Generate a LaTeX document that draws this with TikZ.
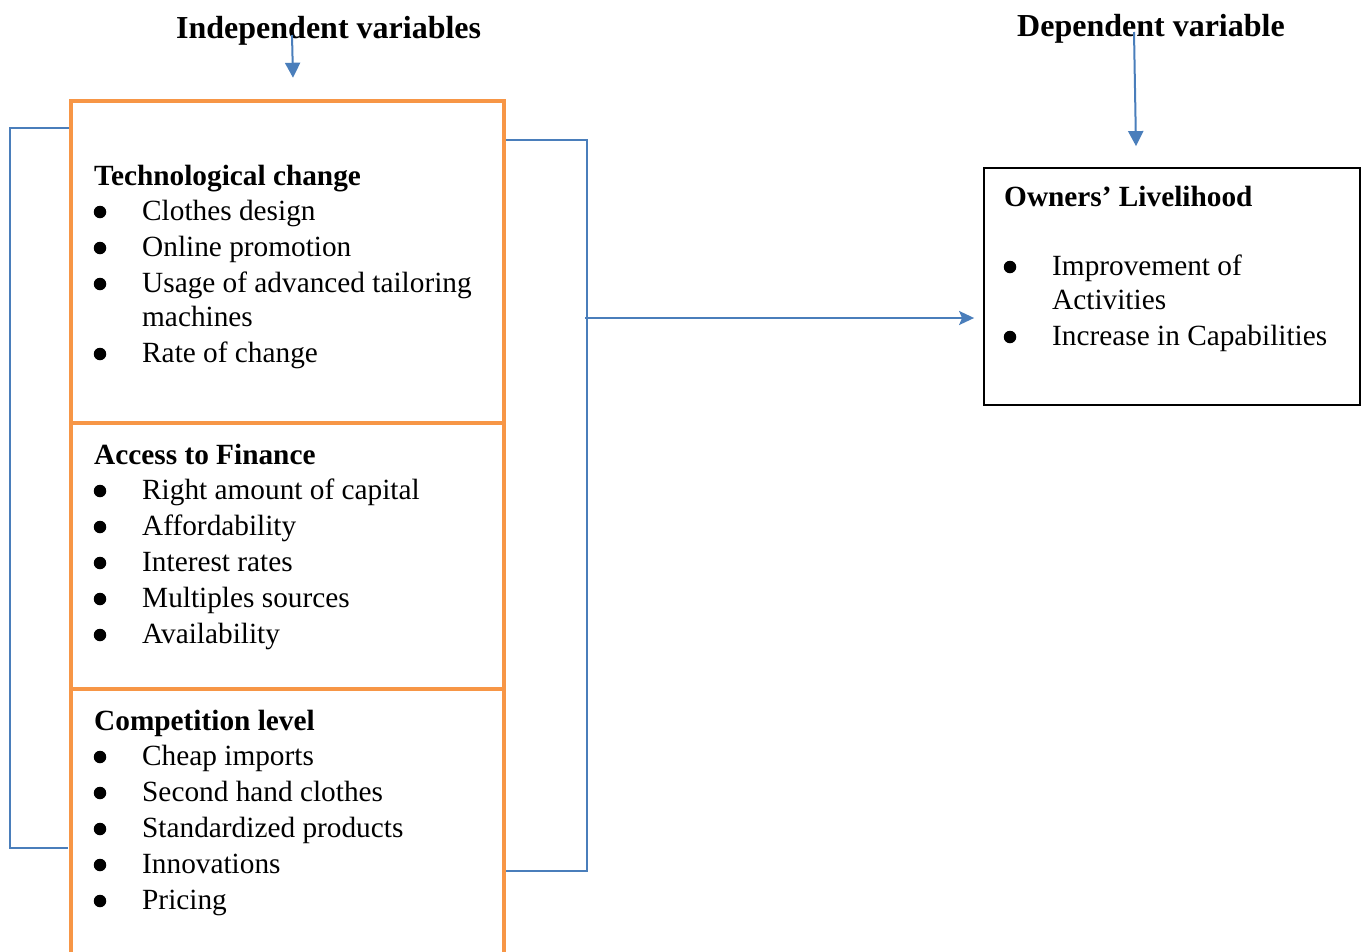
\documentclass[tikz,border=0pt]{standalone}
\usepackage{fontspec}
\setmainfont{Liberation Serif}
\usetikzlibrary{arrows.meta,calc}
\definecolor{org}{HTML}{F79646}
\definecolor{blu}{HTML}{4A7EBB}
\newcommand\bitem[4]{\node[dot] (#1d) at (#2-42,#3-8) {};\node[txt] (#1) at (#2,#3) {#4};}
\begin{document}
\begin{tikzpicture}[x=1pt,y=-1pt,
  txt/.style={anchor=base west,inner sep=0pt,font=\fontsize{29.3}{35}\selectfont},
  hd/.style={anchor=base west,inner sep=0pt,font=\fontsize{29.3}{35}\selectfont\bfseries},
  ttl/.style={anchor=base west,inner sep=0pt,font=\fontsize{32}{38}\selectfont\bfseries},
  dot/.style={circle,fill=black,inner sep=0pt,minimum size=12.5pt},
  blk/.style={draw=org,line width=4.5pt,rectangle,minimum width=433pt},
  conn/.style={draw=blu,line width=2pt},
  arr/.style={conn,-{Triangle[length=15pt,width=15pt]}},
  harr/.style={conn,-{Stealth[length=15pt,width=14pt,inset=3pt]}},
]
\useasboundingbox (0,0) rectangle (1367,951);
% titles
\node[ttl] (indep) at (176,38) {Independent variables};
\node[ttl] (dep) at (1017,36) {Dependent variable};
% orange blocks
\node[blk,minimum height=322pt] (tech) at (287.5,262) {};
\node[blk,minimum height=266pt] (fin) at (287.5,556) {};
\node[blk,minimum height=280pt] (comp) at (287.5,829) {};
% outcome box
\node[draw=black,line width=1.8pt,rectangle,minimum width=376pt,minimum height=237pt] (out) at (1172,286.5) {};
% block texts
\node[hd] (h1) at (94,185) {Technological change};
\bitem{t1}{142}{220}{Clothes design}
\bitem{t2}{142}{256}{Online promotion}
\bitem{t3}{142}{292}{Usage of advanced tailoring}
\node[txt] (t3b) at (142,326) {machines};
\bitem{t4}{142}{362}{Rate of change}
\node[hd] (h2) at (94,464) {Access to Finance};
\bitem{f1}{142}{499}{Right amount of capital}
\bitem{f2}{142}{535}{Affordability}
\bitem{f3}{142}{571}{Interest rates}
\bitem{f4}{142}{607}{Multiples sources}
\bitem{f5}{142}{643}{Availability}
\node[hd] (h3) at (94,730) {Competition level};
\bitem{c1}{142}{765}{Cheap imports}
\bitem{c2}{142}{801}{Second hand clothes}
\bitem{c3}{142}{837}{Standardized products}
\bitem{c4}{142}{873}{Innovations}
\bitem{c5}{142}{909}{Pricing}
\node[hd] (h4) at (1004,206) {Owners’ Livelihood};
\bitem{o1}{1052}{275}{Improvement of}
\node[txt] (o1b) at (1052,309) {Activities};
\bitem{o2}{1052}{345}{Increase in Capabilities}
% brackets and arrows
\draw[conn] ($(tech.north west)+(0,29)$) -- ++(-59,0) |- ($(comp.north west)+(-1,161)$);
\draw[conn] ($(tech.north east)+(0,41)$) -- ++(81,0) |- ($(comp.north east)+(0,184)$);
\coordinate (jr) at (585,318);
\draw[harr] (jr) -- ($(out.west)+(-9,31.5)$);
\coordinate (ia) at (292,35);
\draw[arr] (ia) -- ($(tech.north)+(5.5,-21)$);
\coordinate (da) at (1134,32);
\draw[arr] (da) -- ($(out.north)+(-36,-21)$);
\end{tikzpicture}
\end{document}
